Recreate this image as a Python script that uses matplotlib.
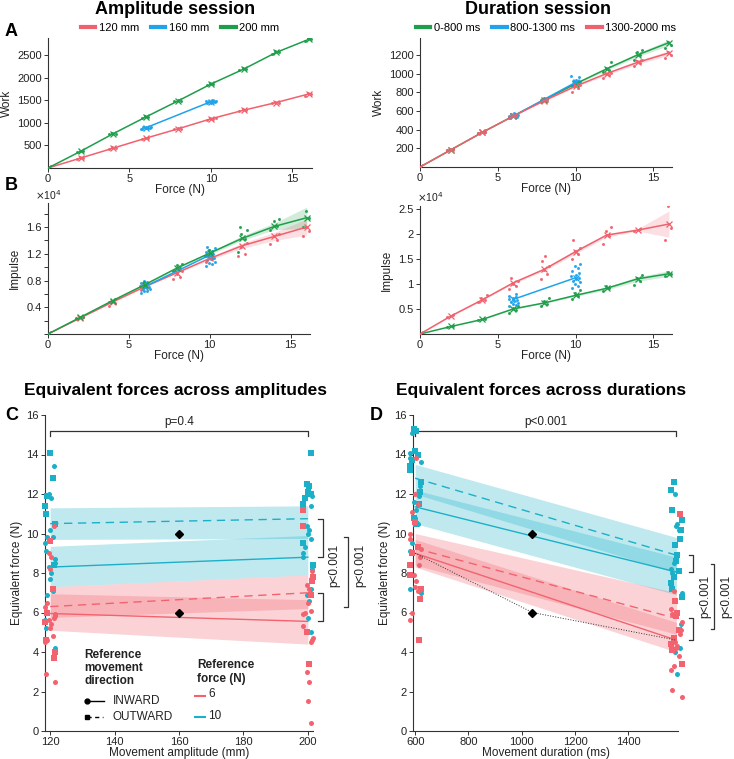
import matplotlib
matplotlib.use("Agg")
import matplotlib.pyplot as plt
from matplotlib.ticker import MultipleLocator, FuncFormatter

plt.rcParams['font.family'] = ['Liberation Sans', 'DejaVu Sans']

W, H = 734, 759

# ---------------- data ----------------
forces = [0, 2, 4, 6, 8, 10, 12, 14, 16]
forces_mid = [6, 10]

# Amplitude session, work
amp_work_120 = [0, 220, 440, 660, 870, 1090, 1280, 1450, 1640]
amp_work_160 = [890, 1470]
amp_work_200 = [0, 370, 760, 1130, 1490, 1860, 2190, 2560, 2850]
amp_work_120_trials = [[0], [210, 225, 235], [430, 445, 455], [650, 665, 675], [860, 875, 890],
                       [1070, 1090, 1100, 1110], [1260, 1285, 1300], [1430, 1450, 1470], [1600, 1630, 1660]]
amp_work_160_trials = [[870, 880, 890, 900, 910, 885, 895, 875, 905],
                       [1440, 1455, 1470, 1480, 1490, 1500, 1465, 1475, 1445, 1485]]
amp_work_200_trials = [[0], [360, 375, 385], [745, 760, 770], [1110, 1130, 1150], [1480, 1495, 1505],
                       [1830, 1860, 1890], [2170, 2190, 2210], [2530, 2560, 2590], [2810, 2850, 2880]]

# Duration session, work
dur_work_fast = [0, 185, 370, 545, 720, 890, 1050, 1200, 1330]
dur_work_mid = [545, 905]
dur_work_slow = [0, 185, 370, 545, 710, 865, 1000, 1120, 1220]
dur_work_fast_lo = [0, 185, 370, 545, 715, 880, 1035, 1180, 1300]
dur_work_fast_hi = [0, 185, 370, 545, 725, 900, 1065, 1220, 1360]
dur_work_slow_lo = [0, 185, 370, 545, 705, 855, 985, 1100, 1195]
dur_work_slow_hi = [0, 185, 370, 545, 715, 875, 1015, 1140, 1245]
dur_work_fast_trials = [[0], [180, 190], [365, 375], [540, 550], [715, 730, 740],
                        [880, 900], [1020, 1040, 1060, 1120], [1150, 1200, 1230, 1250], [1270, 1300, 1340, 1380]]
dur_work_mid_trials = [[520, 535, 545, 555, 565, 575, 540, 550],
                       [870, 890, 900, 910, 920, 935, 960, 975, 895, 915]]
dur_work_slow_trials = [[0], [180, 185, 190], [360, 370, 378], [535, 545, 555], [695, 710, 725],
                        [800, 850, 870, 880], [950, 980, 1000, 1010], [1080, 1110, 1130, 1150],
                        [1170, 1200, 1230, 1260]]

# Amplitude session, impulse (x1e4)
amp_imp_120 = [0, 0.24, 0.48, 0.71, 0.92, 1.13, 1.32, 1.46, 1.60]
amp_imp_160 = [0.71, 1.18]
amp_imp_200 = [0, 0.25, 0.50, 0.74, 0.99, 1.21, 1.43, 1.61, 1.74]
amp_imp_120_lo = [0, 0.24, 0.47, 0.70, 0.91, 1.11, 1.28, 1.40, 1.48]
amp_imp_120_hi = [0, 0.24, 0.49, 0.72, 0.93, 1.15, 1.36, 1.52, 1.72]
amp_imp_200_lo = [0, 0.25, 0.49, 0.73, 0.98, 1.19, 1.40, 1.56, 1.58]
amp_imp_200_hi = [0, 0.25, 0.51, 0.75, 1.00, 1.23, 1.47, 1.66, 1.90]
amp_imp_120_trials = [[0], [0.23, 0.25], [0.42, 0.46, 0.50], [0.66, 0.70, 0.74], [0.82, 0.86, 0.90, 0.94],
                      [1.08, 1.12, 1.16], [1.16, 1.20, 1.30, 1.36], [1.34, 1.40, 1.46, 1.50],
                      [1.46, 1.54, 1.60, 1.66]]
amp_imp_160_trials = [[0.62, 0.64, 0.65, 0.67, 0.68, 0.70, 0.71, 0.72, 0.74, 0.75, 0.77, 0.78, 0.80],
                      [1.02, 1.04, 1.06, 1.08, 1.10, 1.12, 1.14, 1.16, 1.18, 1.20, 1.22, 1.24, 1.26, 1.28, 1.30]]
amp_imp_200_trials = [[0], [0.24, 0.26], [0.48, 0.52], [0.70, 0.75, 0.78], [0.95, 0.99, 1.03, 1.04],
                      [1.17, 1.21, 1.25], [1.22, 1.42, 1.50, 1.56, 1.60], [1.56, 1.62, 1.69, 1.72],
                      [1.60, 1.74, 1.84, 1.90]]

# Duration session, impulse (x1e4)
dur_imp_fast = [0, 0.15, 0.29, 0.50, 0.62, 0.77, 0.91, 1.10, 1.20]
dur_imp_mid = [0.69, 1.12]
dur_imp_slow = [0, 0.36, 0.68, 1.02, 1.29, 1.64, 1.97, 2.07, 2.19]
dur_imp_fast_lo = [0, 0.15, 0.28, 0.49, 0.61, 0.75, 0.88, 1.05, 1.15]
dur_imp_fast_hi = [0, 0.15, 0.30, 0.51, 0.63, 0.79, 0.94, 1.14, 1.26]
dur_imp_slow_lo = [0, 0.35, 0.67, 1.00, 1.26, 1.60, 1.93, 2.05, 1.93]
dur_imp_slow_hi = [0, 0.37, 0.69, 1.04, 1.32, 1.68, 2.00, 2.10, 2.45]
dur_imp_fast_trials = [[0], [0.14, 0.16], [0.27, 0.30], [0.42, 0.48, 0.52, 0.56], [0.55, 0.60, 0.66, 0.72],
                       [0.70, 0.76, 0.82, 0.88], [0.86, 0.92, 0.95], [0.98, 1.06, 1.12, 1.18],
                       [1.16, 1.20, 1.24, 1.30]]
dur_imp_mid_trials = [[0.55, 0.58, 0.60, 0.62, 0.64, 0.66, 0.68, 0.70, 0.72, 0.74, 0.76, 0.80],
                      [0.92, 0.96, 1.00, 1.03, 1.06, 1.09, 1.12, 1.15, 1.18, 1.22, 1.26, 1.32, 1.36, 1.40]]
dur_imp_slow_trials = [[0], [0.33, 0.37], [0.64, 0.68, 0.72, 0.78], [0.90, 0.95, 1.00, 1.05, 1.12],
                       [1.10, 1.20, 1.28, 1.35, 1.45, 1.56], [1.50, 1.60, 1.66, 1.72, 1.87],
                       [1.80, 1.95, 2.05, 2.13], [2.05, 2.10], [1.87, 2.12, 2.55]]

# Panel C: equivalent forces across amplitudes
c_x = [120, 200]
c_in10 = [8.3, 8.8]
c_out10 = [10.5, 10.75]
c_in6 = [5.95, 5.55]
c_out6 = [6.3, 7.0]
c_in10_lo, c_in10_hi = [7.3, 7.9], [9.35, 9.9]
c_out10_lo, c_out10_hi = [9.7, 9.75], [11.3, 11.4]
c_in6_lo, c_in6_hi = [5.1, 4.4], [6.95, 6.65]
c_out6_lo, c_out6_hi = [5.75, 6.2], [7.3, 7.9]
c_ref = [160, 160]
c_ref_force = [10, 6]
c120_in10 = [13.4, 12.0, 11.8, 10.2, 9.8, 9.8, 9.5, 9.1, 8.7, 8.5, 8.4, 8.3, 8.0, 7.7, 7.1, 6.9, 5.6, 5.2, 4.2]
c120_out10 = [14.1, 12.8, 11.9, 11.4, 11.0, 10.5, 10.5, 8.4]
c120_in6 = [10.4, 9.0, 8.8, 8.2, 7.2, 6.5, 6.3, 6.1, 5.9, 5.8, 5.7, 5.6, 5.4, 5.2, 4.8, 4.6, 4.5, 2.9, 2.5]
c120_out6 = [9.6, 7.2, 6.0, 5.5, 4.6, 4.0, 4.0, 3.7]
c200_in10 = [11.9, 11.4, 10.4, 10.2, 10.0, 9.7, 9.3, 9.0, 8.8, 8.4, 8.2, 7.2, 6.9, 6.6, 5.7, 5.0]
c200_out10 = [14.1, 12.5, 12.4, 12.1, 12.0, 11.8, 11.5, 9.5, 8.4]
c200_in6 = [8.1, 7.7, 7.4, 7.2, 6.5, 6.1, 6.0, 5.9, 5.3, 4.7, 4.6, 4.5, 3.0, 2.5, 1.5, 0.4]
c200_out6 = [11.2, 10.4, 7.8, 7.6, 6.9, 5.0, 3.4]

# Panel D: equivalent forces across durations
d_x = [600, 1580]
d_in10 = [11.35, 8.05]
d_out10 = [12.8, 8.9]
d_in6 = [9.0, 4.6]
d_out6 = [9.25, 5.7]
d_in10_lo, d_in10_hi = [10.5, 6.9], [12.2, 8.8]
d_out10_lo, d_out10_hi = [12.0, 8.0], [13.5, 9.8]
d_in6_lo, d_in6_hi = [8.3, 4.0], [9.7, 5.5]
d_out6_lo, d_out6_hi = [8.4, 4.9], [10.0, 7.0]
d_ref = [1040, 1040]
d_ref_force = [10, 6]
d_path_x = [600, 1040, 1580]
d_path_y = [9.0, 6.0, 4.6]
d600_in10 = [15.1, 14.1, 13.8, 13.6, 12.4, 11.9, 11.6, 11.2, 10.8, 10.5, 9.5, 9.1, 7.2, 7.0]
d600_out10 = [15.3, 15.2, 14.2, 14.0, 13.7, 13.4, 13.2, 12.6, 12.1, 11.5, 10.8, 10.5]
d600_in6 = [13.8, 12.0, 11.5, 11.1, 10.0, 9.7, 9.2, 8.8, 8.4, 7.9, 7.6, 7.3, 7.1, 6.0, 5.6]
d600_out6 = [10.6, 9.3, 9.0, 8.4, 7.9, 7.2, 6.7, 4.6]
d1580_in10 = [12.0, 10.5, 10.4, 10.2, 8.5, 8.2, 8.0, 7.0, 5.4, 4.2, 4.0, 2.9]
d1580_out10 = [12.6, 12.2, 11.2, 10.7, 10.2, 9.7, 9.4, 8.9, 8.6, 8.1, 7.8, 7.5, 7.2, 6.8]
d1580_in6 = [7.1, 6.2, 5.9, 5.5, 5.1, 4.9, 4.5, 4.3, 4.2, 3.8, 3.3, 3.1, 2.1, 1.7]
d1580_out6 = [11.0, 6.6, 6.0, 5.8, 5.1, 4.7, 4.4, 4.1, 3.4]

# ---------------- style ----------------
RED = '#F0616E'
BLUE = '#1FA3EA'
GREEN = '#1E9E4A'
CRED = '#F2636F'
CYAN = '#1BB0C8'
TXT = '#222222'
JIT = [-0.25, 0.15, -0.05, 0.3, -0.15, 0.05, 0.25, -0.3, 0.0, 0.2]

fig = plt.figure(figsize=(W / 100, H / 100), dpi=100)


def add_ax(l, t, r, b):
    return fig.add_axes([l / W, 1 - b / H, (r - l) / W, (b - t) / H])


def style(ax):
    for s in ['top', 'right']:
        ax.spines[s].set_visible(False)
    for s in ['left', 'bottom']:
        ax.spines[s].set_linewidth(0.8)
        ax.spines[s].set_color('#333333')
    ax.tick_params(labelsize=8, length=3, width=0.7, colors='#333333', labelcolor=TXT, pad=1.5)
    ax.tick_params(which='minor', length=3, width=0.7, colors='#333333')


def trials(ax, xs, groups, color, scale=1.0):
    for x, g in zip(xs, groups):
        for i, v in enumerate(g):
            ax.plot(x + JIT[i % len(JIT)] * scale, v, '.', color=color, ms=2.4, alpha=0.85, zorder=2)


def series(ax, xs, ys, color, lo=None, hi=None):
    if lo is not None:
        ax.fill_between(xs, lo, hi, color=color, alpha=0.2, lw=0, zorder=1)
    ax.plot(xs, ys, '-', color=color, lw=1.1, marker='x', ms=4, mew=0.9, zorder=3)


def force_axis(ax):
    ax.set_xlim(0, 16.2)
    ax.set_xticks([0, 5, 10, 15])
    ax.set_xlabel('Force (N)', fontsize=8.5, labelpad=0, color=TXT)


# ---------- A left ----------
ax = add_ax(48, 38, 312, 168)
style(ax)
trials(ax, forces, amp_work_120_trials, RED)
trials(ax, forces_mid, amp_work_160_trials, BLUE)
trials(ax, forces, amp_work_200_trials, GREEN)
series(ax, forces, amp_work_120, RED)
series(ax, forces_mid, amp_work_160, BLUE)
series(ax, forces, amp_work_200, GREEN)
ax.set_ylim(0, 2880)
ax.set_yticks([500, 1000, 1500, 2000, 2500])
force_axis(ax)
ax.set_ylabel('Work', fontsize=8.5, labelpad=3, color=TXT)
h = [plt.Line2D([], [], color=c, lw=3) for c in (RED, BLUE, GREEN)]
ax.legend(h, ['120 mm', '160 mm', '200 mm'], loc='lower center', bbox_to_anchor=(0.5, 0.99),
          ncol=3, frameon=False, fontsize=8, handlelength=1.3, handletextpad=0.3,
          columnspacing=1.1, borderpad=0.1)

# ---------- A right ----------
ax = add_ax(420, 38, 672, 167)
style(ax)
trials(ax, forces, dur_work_fast_trials, GREEN)
trials(ax, forces_mid, dur_work_mid_trials, BLUE)
trials(ax, forces, dur_work_slow_trials, RED)
series(ax, forces, dur_work_fast, GREEN, dur_work_fast_lo, dur_work_fast_hi)
series(ax, forces_mid, dur_work_mid, BLUE)
series(ax, forces, dur_work_slow, RED, dur_work_slow_lo, dur_work_slow_hi)
ax.set_ylim(0, 1380)
ax.set_yticks([200, 400, 600, 800, 1000, 1200])
force_axis(ax)
ax.set_ylabel('Work', fontsize=8.5, labelpad=3, color=TXT)
h = [plt.Line2D([], [], color=c, lw=3) for c in (GREEN, BLUE, RED)]
ax.legend(h, ['0-800 ms', '800-1300 ms', '1300-2000 ms'], loc='lower center', bbox_to_anchor=(0.5, 0.99),
          ncol=3, frameon=False, fontsize=8, handlelength=1.3, handletextpad=0.3,
          columnspacing=1.1, borderpad=0.1)

# ---------- B left ----------
ax = add_ax(48, 203, 310, 334)
style(ax)
trials(ax, forces, amp_imp_120_trials, RED)
trials(ax, forces_mid, amp_imp_160_trials, BLUE)
trials(ax, forces, amp_imp_200_trials, GREEN)
series(ax, forces, amp_imp_120, RED, amp_imp_120_lo, amp_imp_120_hi)
series(ax, forces_mid, amp_imp_160, BLUE)
series(ax, forces, amp_imp_200, GREEN, amp_imp_200_lo, amp_imp_200_hi)
ax.set_ylim(0, 1.96)
ax.yaxis.set_major_locator(MultipleLocator(0.4))
ax.yaxis.set_minor_locator(MultipleLocator(0.2))
ax.yaxis.set_major_formatter(FuncFormatter(lambda v, p: '' if v == 0 else '%.1f' % v))
force_axis(ax)
ax.set_ylabel('Impulse', fontsize=8.5, labelpad=4, color=TXT)
ax.text(-0.05, 1.02, r'$\times$10$^4$', transform=ax.transAxes, fontsize=7.5, color=TXT)

# ---------- B right ----------
ax = add_ax(420, 206, 672, 334)
style(ax)
trials(ax, forces, dur_imp_fast_trials, GREEN)
trials(ax, forces_mid, dur_imp_mid_trials, BLUE)
trials(ax, forces, dur_imp_slow_trials, RED)
series(ax, forces, dur_imp_fast, GREEN, dur_imp_fast_lo, dur_imp_fast_hi)
series(ax, forces_mid, dur_imp_mid, BLUE)
series(ax, forces, dur_imp_slow, RED, dur_imp_slow_lo, dur_imp_slow_hi)
ax.set_ylim(0, 2.55)
ax.set_yticks([0.5, 1, 1.5, 2, 2.5])
ax.yaxis.set_major_formatter(FuncFormatter(lambda v, p: '%g' % v))
force_axis(ax)
ax.set_ylabel('Impulse', fontsize=8.5, labelpad=4, color=TXT)
ax.text(-0.01, 1.03, r'$\times$10$^4$', transform=ax.transAxes, fontsize=7.5, color=TXT)


# ---------- C and D ----------
def equiv_panel(ax, xs, lines, bands, cols, jit_scale):
    (in10, out10, in6, out6) = lines
    for (lo, hi), c in zip(bands, [CYAN, CYAN, CRED, CRED]):
        ax.fill_between(xs, lo, hi, color=c, alpha=0.28, lw=0, zorder=1)
    ax.plot(xs, out10, '--', color=CYAN, lw=1.0, dashes=(6, 4), zorder=3)
    ax.plot(xs, in10, '-', color=CYAN, lw=1.0, zorder=3)
    ax.plot(xs, out6, '--', color=CRED, lw=1.0, dashes=(6, 4), zorder=3)
    ax.plot(xs, in6, '-', color=CRED, lw=1.0, zorder=3)
    for x, groups in zip(xs, cols):
        for vals, c, m in groups:
            for i, v in enumerate(vals):
                ax.scatter(x + JIT[(i * 3 + len(vals)) % len(JIT)] * jit_scale, v, s=13, marker=m,
                           color=c, lw=0, zorder=4, clip_on=False)


def bracket_top(ax, x0, x1, y, label):
    ax.plot([x0, x0, x1, x1], [y - 0.25, y, y, y - 0.25], color='#333333', lw=0.9, clip_on=False)
    ax.text((x0 + x1) / 2, y + 0.12, label, ha='center', va='bottom', fontsize=8.5, color=TXT)


def bracket_side(ax, x, y0, y1, dx):
    ax.plot([x - dx, x, x, x - dx], [y0, y0, y1, y1], color='#333333', lw=0.9, clip_on=False)


ax = add_ax(45, 415, 313, 731)
style(ax)
equiv_panel(ax, c_x, (c_in10, c_out10, c_in6, c_out6),
            [(c_in10_lo, c_in10_hi), (c_out10_lo, c_out10_hi), (c_in6_lo, c_in6_hi), (c_out6_lo, c_out6_hi)],
            [[(c120_in10, CYAN, 'o'), (c120_out10, CYAN, 's'), (c120_in6, CRED, 'o'), (c120_out6, CRED, 's')],
             [(c200_in10, CYAN, 'o'), (c200_out10, CYAN, 's'), (c200_in6, CRED, 'o'), (c200_out6, CRED, 's')]],
            5.5)
ax.plot(c_ref, c_ref_force, 'D', color='black', ms=4.5, zorder=5)
ax.set_xlim(118.4, 201.6)
ax.set_ylim(0, 16)
ax.set_xticks([120, 140, 160, 180, 200])
ax.set_yticks(range(0, 17, 2))
ax.set_xlabel('Movement amplitude (mm)', fontsize=8.5, labelpad=0, color=TXT)
ax.set_ylabel('Equivalent force (N)', fontsize=8.5, labelpad=2, color=TXT)
bracket_top(ax, 120, 200, 15.2, 'p=0.4')
bracket_side(ax, 204.6, 10.75, 8.8, 1.3)
bracket_side(ax, 204.6, 7.0, 5.55, 1.3)
bracket_side(ax, 212.4, 9.8, 6.3, 1.3)
ax.text(208.3, 8.4, 'p<0.001', rotation=90, ha='center', va='center', fontsize=8.5, color=TXT)
ax.text(216.2, 8.4, 'p<0.001', rotation=90, ha='center', va='center', fontsize=8.5, color=TXT)

# legend of panel C (drawn in axes fraction)
T = ax.transAxes
ax.text(0.146, 0.199, 'Reference\nmovement\ndirection', transform=T, fontsize=8.5, fontweight='bold',
        va='center', ha='left', color=TXT, linespacing=1.15)
ax.plot([0.157, 0.222], [0.095, 0.095], '-', color='black', lw=1.0, transform=T, clip_on=False)
ax.plot([0.157], [0.095], 'o', color='black', ms=3.5, transform=T, clip_on=False)
ax.plot([0.157, 0.215], [0.044, 0.044], '--', color='black', lw=1.0, dashes=(3, 2.5), transform=T,
        clip_on=False)
ax.plot([0.157], [0.044], 's', color='black', ms=3.2, transform=T, clip_on=False)
ax.text(0.254, 0.095, 'INWARD', transform=T, fontsize=8.5, va='center', color=TXT)
ax.text(0.251, 0.044, 'OUTWARD', transform=T, fontsize=8.5, va='center', color=TXT)
ax.text(0.567, 0.187, 'Reference\nforce (N)', transform=T, fontsize=8.5, fontweight='bold',
        va='center', ha='left', color=TXT, linespacing=1.15)
ax.plot([0.56, 0.598], [0.112, 0.112], '-', color=CRED, lw=1.5, transform=T, clip_on=False)
ax.plot([0.56, 0.598], [0.044, 0.044], '-', color=CYAN, lw=1.5, transform=T, clip_on=False)
ax.text(0.608, 0.117, '6', transform=T, fontsize=8.5, va='center', color=TXT)
ax.text(0.608, 0.049, '10', transform=T, fontsize=8.5, va='center', color=TXT)

ax = add_ax(413, 415, 678, 731)
style(ax)
equiv_panel(ax, d_x, (d_in10, d_out10, d_in6, d_out6),
            [(d_in10_lo, d_in10_hi), (d_out10_lo, d_out10_hi), (d_in6_lo, d_in6_hi), (d_out6_lo, d_out6_hi)],
            [[(d600_in10, CYAN, 'o'), (d600_out10, CYAN, 's'), (d600_in6, CRED, 'o'), (d600_out6, CRED, 's')],
             [(d1580_in10, CYAN, 'o'), (d1580_out10, CYAN, 's'), (d1580_in6, CRED, 'o'), (d1580_out6, CRED, 's')]],
            70.0)
ax.plot(d_path_x, d_path_y, ':', color='#333333', lw=0.7, zorder=4)
ax.plot(d_ref, d_ref_force, 'D', color='black', ms=4.5, zorder=5)
ax.set_xlim(592, 1586)
ax.set_ylim(0, 16)
ax.set_xticks([600, 800, 1000, 1200, 1400])
ax.set_yticks(range(0, 17, 2))
ax.set_xlabel('Movement duration (ms)', fontsize=8.5, labelpad=0, color=TXT)
ax.set_ylabel('Equivalent force (N)', fontsize=8.5, labelpad=2, color=TXT)
bracket_top(ax, 600, 1580, 15.2, 'p<0.001')
bracket_side(ax, 1643, 8.9, 8.05, 14)
bracket_side(ax, 1643, 5.7, 4.6, 14)
bracket_side(ax, 1722, 8.45, 5.15, 14)
ax.text(1687, 6.8, 'p<0.001', rotation=90, ha='center', va='center', fontsize=8.5, color=TXT)
ax.text(1766, 6.8, 'p<0.001', rotation=90, ha='center', va='center', fontsize=8.5, color=TXT)

# ---------- titles and panel letters ----------
def ftext(x, y, s, **kw):
    fig.text(x / W, 1 - y / H, s, **kw)


ftext(175, 10, 'Amplitude session', ha='center', va='center', fontsize=13, fontweight='bold', color='black')
ftext(538, 10, 'Duration session', ha='center', va='center', fontsize=13, fontweight='bold', color='black')
ftext(175, 390, 'Equivalent forces across amplitudes', ha='center', va='center', fontsize=12.5,
      fontweight='bold', color='black')
ftext(541, 390, 'Equivalent forces across durations', ha='center', va='center', fontsize=12.5,
      fontweight='bold', color='black')
for x, y, s in [(5, 31, 'A'), (5, 186, 'B'), (5, 416, 'C'), (370, 416, 'D')]:
    ftext(x, y, s, ha='left', va='center', fontsize=13, fontweight='bold', color='black')

fig.savefig('out.png', dpi=100)
